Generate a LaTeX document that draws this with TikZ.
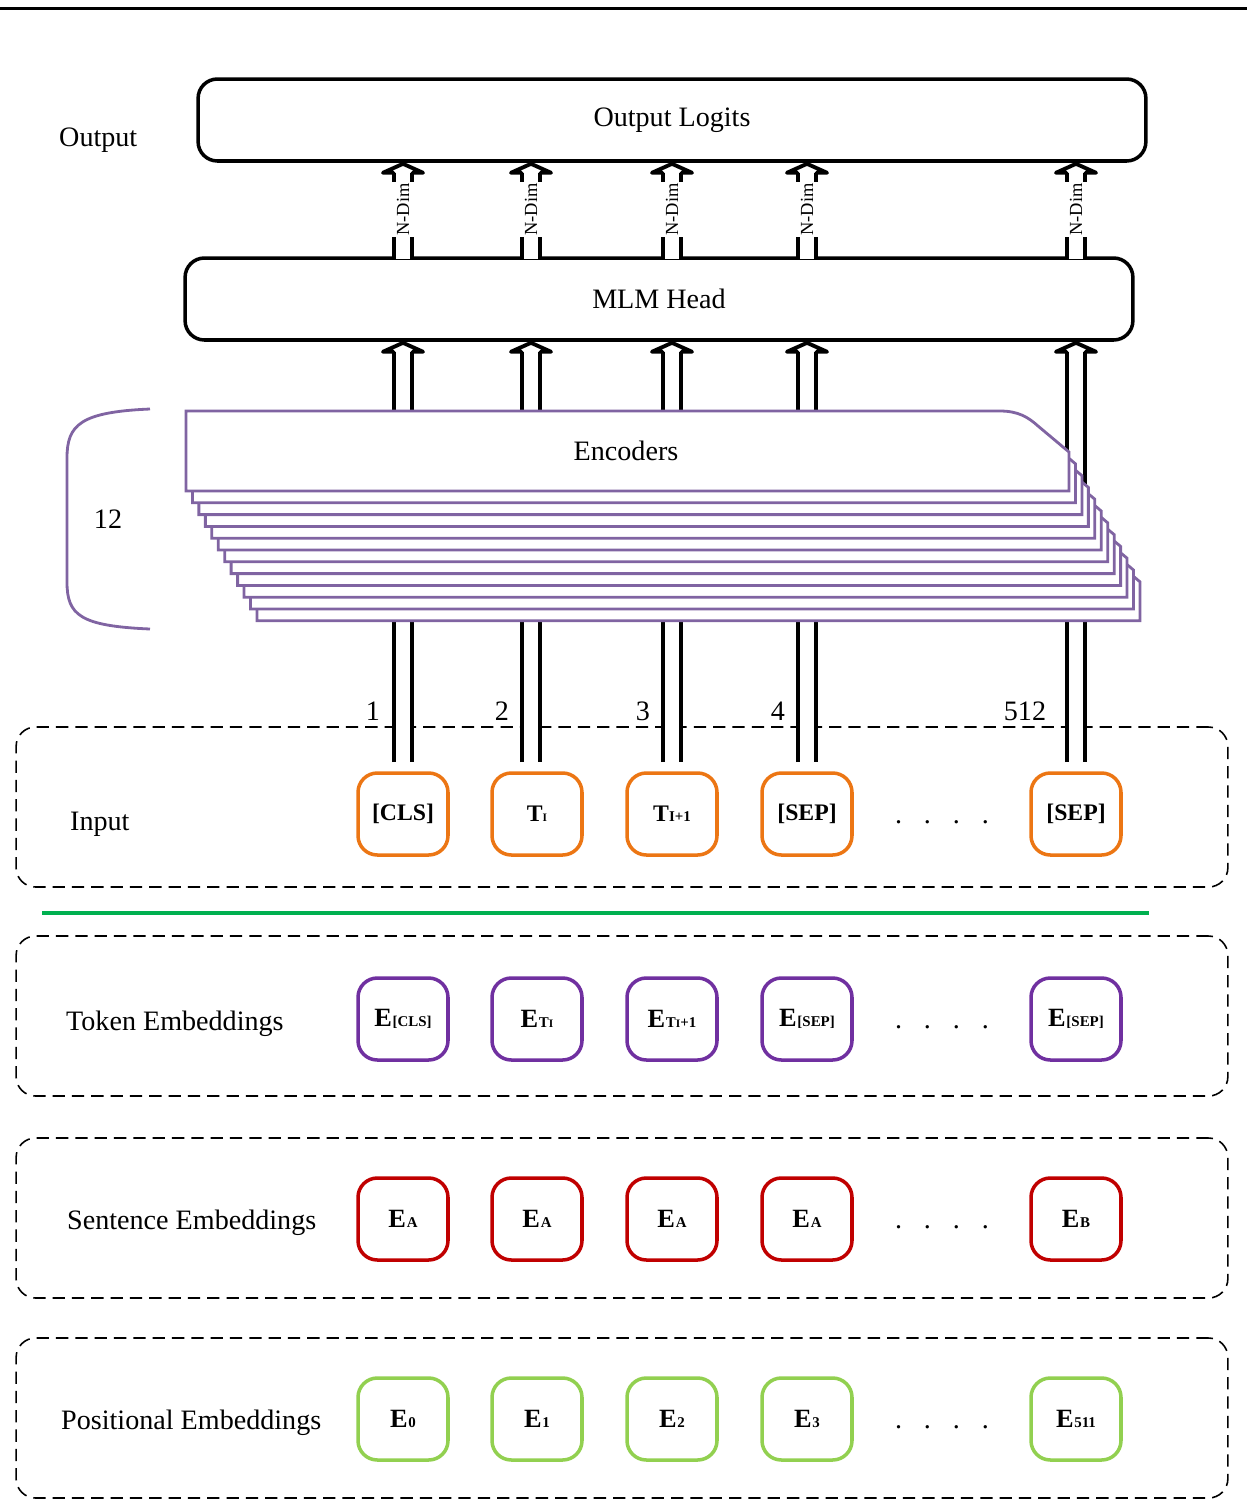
\documentclass[tikz,border=0pt]{standalone}
\usepackage{fontspec}
\setmainfont{Liberation Serif}
\usetikzlibrary{arrows.meta,positioning}

\definecolor{encviolet}{RGB}{128,100,162}
\definecolor{tokviolet}{RGB}{112,48,160}
\definecolor{inorange}{RGB}{236,118,20}
\definecolor{sentred}{RGB}{192,0,0}
\definecolor{posgreen}{RGB}{146,208,80}
\definecolor{splitgreen}{RGB}{0,176,80}

% small subscripts set on the baseline
\newcommand{\tsub}[1]{{\fontsize{8.5pt}{10pt}\selectfont #1}}
\newcommand{\tsubb}[1]{{\fontsize{6.5pt}{8pt}\selectfont #1}}
\newcommand{\embE}{{\fontsize{15pt}{17pt}\selectfont E}\kern0.4pt}
\newcommand{\dotgap}{\hspace{12.5pt}}

\tikzset{
  labeltext/.style={font=\fontsize{16pt}{19pt}\selectfont},
  bigbox/.style={draw, line width=2pt, rounded corners=11pt, minimum width=18.96cm, minimum height=1.64cm, labeltext},
  tokbox/.style={draw=#1, line width=2pt, rounded corners=11pt, minimum width=1.8cm, minimum height=1.64cm, font=\bfseries\fontsize{13.5pt}{16pt}\selectfont},
  rowbox/.style={draw, line width=0.9pt, dash pattern=on 7pt off 4pt, rounded corners=11pt, minimum width=24.24cm, minimum height=3.2cm},
  dblline/.style={double, line width=2.2pt, double distance=8.5pt, shorten >=5.7pt},
  arrowhat/.pic={\draw[line width=2.2pt, line join=round, line cap=round] (-5.4pt,-5.7pt) -- (-11.4pt,-5.7pt) -- (0pt,-0.6pt) -- (11.4pt,-5.7pt) -- (5.4pt,-5.7pt);},
  dimlabel/.style={rotate=90, fill=white, inner xsep=1pt, inner ysep=3.6pt, font=\fontsize{10.5pt}{12pt}\selectfont},
  enclayer/.style={draw=encviolet, line width=1.6pt, fill=white},
}

\begin{document}
\begin{tikzpicture}[x=0.02cm, y=-0.02cm]
    \useasboundingbox (0,0) rectangle (1247,1499);

    % rule at the top
    \draw[line width=1.7pt] (0,8) -- (1247,8);

    % output side
    \node[bigbox] (logits) at (672,120) {Output Logits};
    \node[bigbox] (mlm) at (659,299) {MLM Head};
    \node[labeltext, anchor=west] (lbOut) at (53,140) {Output};

    % dashed rows
    \node[rowbox] (rowIn) at (622,807) {};
    \node[rowbox] (rowTok) at (622,1016) {};
    \node[rowbox] (rowSen) at (622,1218) {};
    \node[rowbox] (rowPos) at (622,1418) {};
    \node[labeltext, anchor=west] (lbIn) at (64,824) {Input};
    \node[labeltext, anchor=west] (lbTok) at (60,1024) {Token Embeddings};
    \node[labeltext, anchor=west] (lbSen) at (61,1223) {Sentence Embeddings};
    \node[labeltext, anchor=west] (lbPos) at (55,1423) {Positional Embeddings};

    % green separator
    \draw[splitgreen, line width=2.8pt] (42,913) -- (1149,913);

    % token boxes, one column at a time
    \foreach \n/\x/\tin/\ttok/\tsen/\tpos in {
        1/403/{[CLS]}/{\embE\tsub{[CLS]}}/{\embE\tsub{A}}/{\embE\tsub{0}},
        2/537/{T\tsubb{I}}/{\embE\tsub{T}\tsubb{I}}/{\embE\tsub{A}}/{\embE\tsub{1}},
        3/672/{T\tsub{I+1}}/{\embE\tsub{T}\tsubb{I}\tsub{+1}}/{\embE\tsub{A}}/{\embE\tsub{2}},
        4/807/{[SEP]}/{\embE\tsub{[SEP]}}/{\embE\tsub{A}}/{\embE\tsub{3}},
        5/1076/{[SEP]}/{\embE\tsub{[SEP]}}/{\embE\tsub{B}}/{\embE\tsub{511}}} {
        \node[tokbox=inorange] (in\n) at (\x,814) {\tin};
        \node[tokbox=tokviolet] (tok\n) at (\x,1019) {\ttok};
        \node[tokbox=sentred] (sen\n) at (\x,1219) {\tsen};
        \node[tokbox=posgreen] (pos\n) at (\x,1419) {\tpos};
    }

    % the dots between column 4 and 5
    \foreach \r/\y in {In/822, Tok/1027, Sen/1227, Pos/1427}
        \node[labeltext] (dots\r) at (942,\y) {.\dotgap.\dotgap.\dotgap.};

    % double arrows from the inputs up to the MLM head
    \foreach \n/\ax/\num/\nx in {1/403/1/373, 2/531/2/502, 3/672/3/643, 4/807/4/778, 5/1076/512/1025} {
        \coordinate (col\n) at (\ax,762);
        \draw[dblline] (col\n) -- (col\n |- mlm.south);
        \pic at (col\n |- mlm.south) {arrowhat};
        \node[labeltext] (num\n) at (\nx,711) {\num};
    }

    % stack of 12 encoder layers, back to front
    \foreach \k in {11,10,...,0}
        \draw[enclayer, shift={(6.45*\k,11.8*\k)}]
            (186,411) -- (1000,411) .. controls (1018,411) and (1028,417) .. (1038,426)
            -- (1069,452) -- (1069,491) -- (186,491) -- cycle;
    \node[labeltext] (enc) at (626,451) {Encoders};

    % N-Dim arrows from the MLM head to the logits
    \foreach \n in {1,...,5} {
        \draw[dblline, shorten <=-1.3pt] (col\n |- mlm.north) -- node[dimlabel] (dim\n) {N-Dim} (col\n |- logits.south);
        \pic at (col\n |- logits.south) {arrowhat};
    }

    % bracket for the layer count
    \draw[encviolet, line width=1.6pt] (150,409) .. controls (80,412) and (67,425) .. (67,458)
        -- (67,582) .. controls (67,615) and (80,626) .. (150,629);
    \node[labeltext] (layers) at (108,519) {12};
\end{tikzpicture}
\end{document}
